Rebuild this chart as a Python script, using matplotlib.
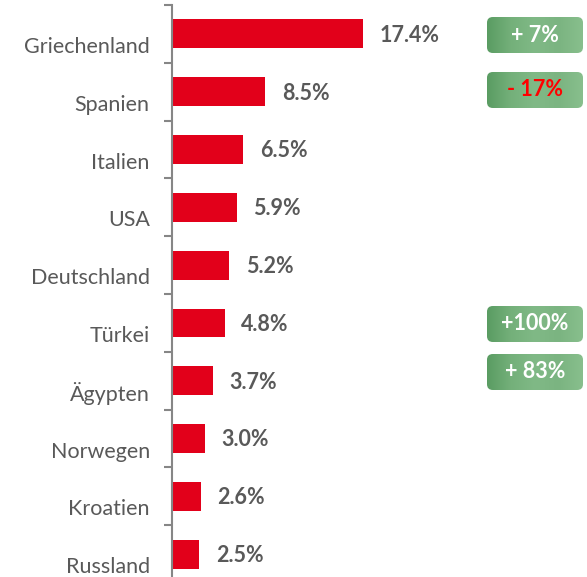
import numpy as np
import matplotlib.pyplot as plt
from matplotlib.patches import FancyBboxPatch
from matplotlib.colors import LinearSegmentedColormap
from matplotlib.transforms import ScaledTranslation

plt.rcParams["font.family"] = ["Lato", "DejaVu Sans"]

# Daten
laender = ["Griechenland", "Spanien", "Italien", "USA", "Deutschland",
           "Türkei", "Ägypten", "Norwegen", "Kroatien", "Russland"]
anteile = [17.4, 8.5, 6.5, 5.9, 5.2, 4.8, 3.7, 3.0, 2.6, 2.5]
# Veränderung zum Vorjahr (nur für einige Länder)
veraenderung = {"Griechenland": "+ 7%", "Spanien": "- 17%",
                "Türkei": "+100%", "Ägypten": "+ 83%"}
veraenderung_farbe = {"Griechenland": "white", "Spanien": "#FF0000",
                      "Türkei": "white", "Ägypten": "white"}

W, H = 587, 577
fig = plt.figure(figsize=(W / 100, H / 100), dpi=100)
ax = fig.add_axes([172 / W, 0, 415 / W, (H - 5) / H])

pos = list(range(len(laender)))
ax.barh(pos, anteile, height=0.5, color="#E2001A")
ax.set_xlim(0, 415 / 10.98)
ax.set_ylim((H - 34) / 57.8, -0.5)

for p, v in zip(pos, anteile):
    ax.annotate(f"{v:.1f}%", (v, p), xytext=(12, -1), textcoords="offset points",
                va="center", ha="left", fontsize=15.5, fontweight="bold",
                color="#595959")

# Achsen
for s in ["top", "right", "bottom"]:
    ax.spines[s].set_visible(False)
ax.spines["left"].set_color("#868686")
ax.spines["left"].set_linewidth(1.5)
ax.set_xticks([])
ax.set_yticks(pos)
ax.set_yticklabels(laender, fontsize=15.5, color="#595959")
ax.tick_params(axis="y", which="major", length=0, pad=16)
ax.set_yticks([p - 0.5 for p in pos], minor=True)
ax.tick_params(axis="y", which="minor", length=6, width=1.5, color="#868686")
for lab in ax.get_yticklabels():
    lab.set_transform(lab.get_transform() +
                      ScaledTranslation(0, -11 / 100, fig.dpi_scale_trans))

# grüne Markierungen rechts (Aquarell-Optik als Farbverlauf)
gruen = LinearSegmentedColormap.from_list(
    "gruen", ["#5a9c62", "#74b07a", "#80b986", "#7bb481", "#88bf8d"])
verlauf = np.linspace(0, 1, 256).reshape(1, -1)
badge_y = {"Griechenland": 35, "Spanien": 90, "Türkei": 324, "Ägypten": 372}
for land, txt in veraenderung.items():
    yc = badge_y[land]
    x0, x1 = 487 / W, 583 / W
    y0, y1 = 1 - (yc + 18) / H, 1 - (yc - 18) / H
    box = FancyBboxPatch((x0, y0), x1 - x0, y1 - y0,
                         boxstyle="round,pad=0,rounding_size=0.01",
                         transform=fig.transFigure, facecolor="none",
                         edgecolor="none")
    fig.patches.append(box)
    bild = ax.imshow(verlauf, cmap=gruen, aspect="auto",
                     extent=(x0, x1, y0, y1), transform=fig.transFigure,
                     clip_on=True, zorder=3)
    bild.set_clip_path(box)
    fig.text(535 / W, 1 - yc / H, txt, ha="center", va="center",
             fontsize=15.5, fontweight="bold", color=veraenderung_farbe[land],
             zorder=5)

fig.savefig("out.png", dpi=100)
